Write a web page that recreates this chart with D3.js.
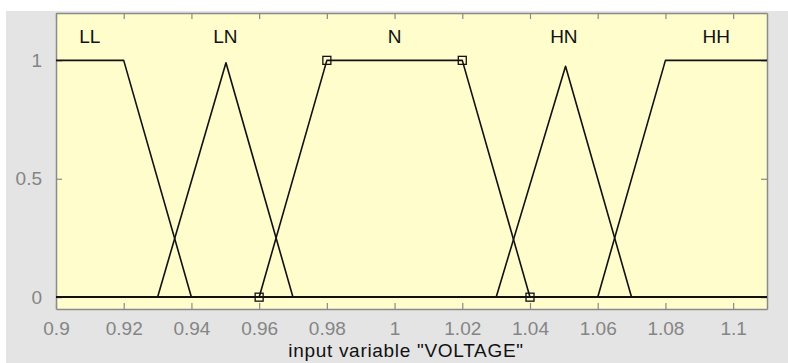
<!DOCTYPE html>
<html>
<head>
<meta charset="utf-8">
<script src="https://cdn.jsdelivr.net/npm/d3@7"></script>
<style>
  body { margin: 0; background: #fff; }
  svg { display: block; font-family: "Liberation Sans", Arial, sans-serif; }
</style>
</head>
<body>
<div id="chart"></div>
<script>
// membership functions of input variable "VOLTAGE"
var mfNames = ["LL", "LN", "N", "HN", "HH"]
var mfX = [
    [0.9, 0.92, 0.94, 1.11],
    [0.9, 0.93, 0.9502, 0.97, 1.11],
    [0.9, 0.96, 0.98, 1.02, 1.04, 1.11],
    [0.9, 1.03, 1.0505, 1.07, 1.11],
    [0.9, 1.06, 1.08, 1.11]
]
var mfY = [
    [1, 1, 0, 0],
    [0, 0, 0.99, 0, 0],
    [0, 0, 1, 1, 0, 0],
    [0, 0, 0.975, 0, 0],
    [0, 0, 1, 1]
]
var labelX = [0.91, 0.95, 1.0, 1.05, 1.095]
var labelY = 1.1
var selX = [0.96, 0.98, 1.02, 1.04]
var selY = [0, 1, 1, 0]
var xTicks = [0.9, 0.92, 0.94, 0.96, 0.98, 1, 1.02, 1.04, 1.06, 1.08, 1.1]
var yTicks = [0, 0.5, 1]
var xTitle = 'input variable "VOLTAGE"'

var W = 788, H = 363
var box = {left: 56, right: 767, top: 13, bottom: 309}

var svg = d3.select("#chart").append("svg")
    .attr("width", W)
    .attr("height", H)

// figure background
svg.append("rect").attr("x", 6).attr("y", 11)
    .attr("width", W - 6).attr("height", H - 11)
    .attr("fill", "#e4e4e4")

var x = d3.scaleLinear().domain([0.9, 1.11]).range([box.left, box.right])
var y = d3.scaleLinear().domain([-0.05, 1.2]).range([box.bottom, box.top])

svg.append("rect")
    .attr("x", box.left).attr("y", box.top)
    .attr("width", box.right - box.left).attr("height", box.bottom - box.top)
    .attr("fill", "#fffdcc")

var tickFmt = function(d) { return d3.format("~g")(d) }

// inward ticks on all four sides
svg.append("g").attr("transform", "translate(0," + box.bottom + ")")
    .call(d3.axisBottom(x).tickValues(xTicks).tickSizeInner(-6).tickSizeOuter(0).tickPadding(13).tickFormat(tickFmt))
svg.append("g").attr("transform", "translate(0," + box.top + ")")
    .call(d3.axisTop(x).tickValues(xTicks).tickSizeInner(-6).tickSizeOuter(0).tickFormat(""))
svg.append("g").attr("transform", "translate(" + box.left + ",0)")
    .call(d3.axisLeft(y).tickValues(yTicks).tickSizeInner(-6).tickSizeOuter(0).tickPadding(14).tickFormat(tickFmt))
svg.append("g").attr("transform", "translate(" + box.right + ",0)")
    .call(d3.axisRight(y).tickValues(yTicks).tickSizeInner(-6).tickSizeOuter(0).tickFormat(""))

svg.selectAll(".domain").attr("stroke", "#8a8a8a").attr("stroke-width", 1.5)
svg.selectAll(".tick line").attr("stroke", "#8a8a8a").attr("stroke-width", 1.2)
svg.selectAll(".tick text").attr("fill", "#858585").style("font-size", "19px")
    .style("font-family", "Liberation Sans, Arial, sans-serif")

// membership curves
var line = d3.line()
    .x(function(d) { return x(d[0]) })
    .y(function(d) { return y(d[1]) })

mfNames.forEach(function(name, i) {
    var pts = mfX[i].map(function(v, j) { return [v, mfY[i][j]] })
    svg.append("path")
        .attr("d", line(pts))
        .attr("fill", "none")
        .attr("stroke", "#111")
        .attr("stroke-width", 1.6)
        .attr("stroke-linejoin", "round")

    svg.append("text")
        .attr("x", x(labelX[i]))
        .attr("y", y(labelY))
        .attr("dy", "0.35em")
        .attr("text-anchor", "middle")
        .style("font-size", "19px")
        .attr("fill", "#111")
        .text(name)
})

// vertex markers of the selected function (N)
svg.selectAll(".sel")
    .data(selX)
    .enter()
    .append("rect")
    .attr("class", "sel")
    .attr("x", function(d) { return x(d) - 4 })
    .attr("y", function(d, i) { return y(selY[i]) - 4 })
    .attr("width", 8)
    .attr("height", 8)
    .attr("fill", "none")
    .attr("stroke", "#111")
    .attr("stroke-width", 1.3)

svg.append("text")
    .attr("x", 406)
    .attr("y", 357)
    .attr("text-anchor", "middle")
    .style("font-size", "19px")
    .style("letter-spacing", "0.7px")
    .attr("fill", "#111")
    .text(xTitle)
</script>
</body>
</html>
